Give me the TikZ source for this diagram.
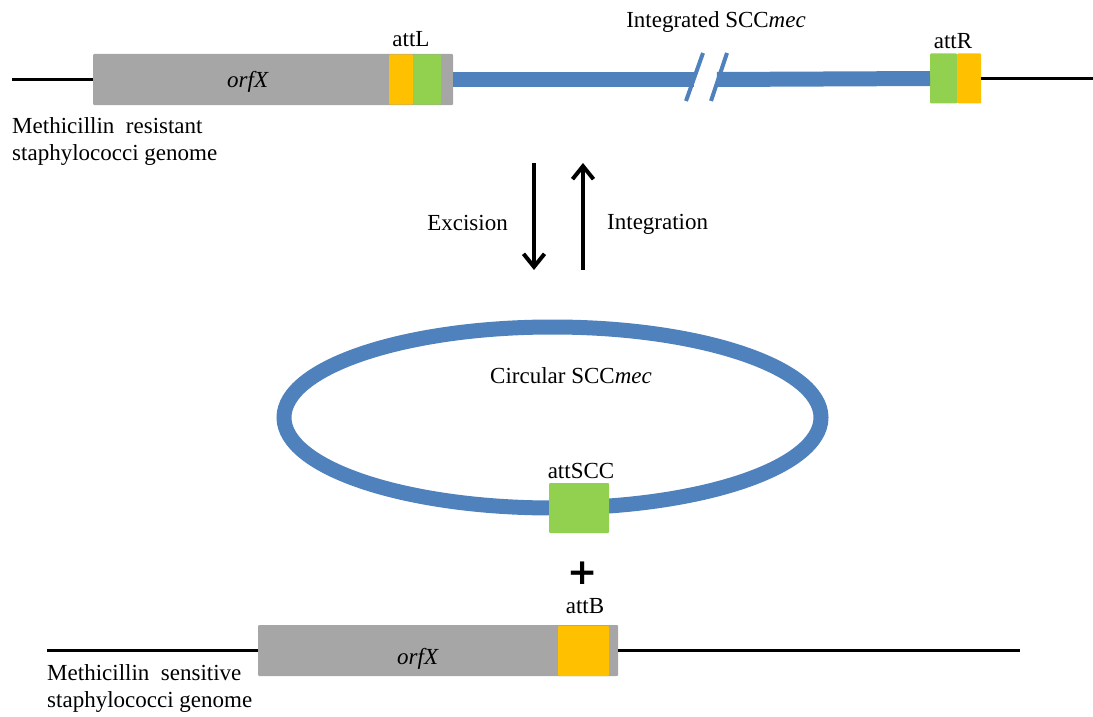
\documentclass[tikz,border=0pt]{standalone}
\usepackage{fontspec}
\setmainfont{Liberation Serif}
\newfontfamily\plusfont{DejaVu Sans}
\usetikzlibrary{arrows.meta}
\definecolor{orfgray}{HTML}{A6A6A6}
\definecolor{attorange}{HTML}{FFC000}
\definecolor{attgreen}{HTML}{92D050}
\definecolor{mecblue}{HTML}{4F81BD}
\tikzset{
  genebox/.style={fill=orfgray,rounded corners=1pt,inner sep=0pt,minimum height=51pt},
  attbox/.style={rounded corners=1pt,inner sep=0pt,minimum height=50pt},
  lbl/.style={inner sep=0pt,font=\fontsize{23}{27}\selectfont},
  dna/.style={line width=3.5pt},
  mec/.style={draw=mecblue,line width=15pt},
  flow/.style={line width=4pt,-{Straight Barb[length=13pt,width=21pt,line width=4pt]}},
}
\begin{document}
\begin{tikzpicture}[x=1pt,y=-1pt]
                \useasboundingbox (0,0) rectangle (1093,717);
                % resistant genome with integrated element
                \node[genebox,minimum width=360pt,anchor=west] (orfR) at (93,79.5) {};
                \node[attbox,fill=attorange,minimum width=24pt,anchor=west] (attLo) at (389,79.5) {};
                \node[attbox,fill=attgreen,minimum width=28pt,anchor=west] (attLg) at (413,79.5) {};
                \node[attbox,fill=attgreen,minimum width=27pt,anchor=west] (attRg) at (930,78.5) {};
                \node[attbox,fill=attorange,minimum width=24pt,anchor=west] (attRo) at (957,78.5) {};
                \coordinate (leftR) at (12,79.5);
                \coordinate (rightR) at (1093,78.5);
                \coordinate (brkA) at (694,79.5);
                \coordinate (brkB) at (717,79.5);
                \draw[dna] (leftR) -- (orfR.west);
                \draw[dna] (attRo.east) -- (rightR);
                \draw[mec] (orfR.east) -- (brkA);
                \draw[mec] (brkB) -- (attRg.west);
                \draw[mecblue,line width=4pt] (686,101) -- (703,53);
                \draw[mecblue,line width=4pt] (711,101) -- (727,53);
                \node[lbl,anchor=base] (orfRtxt) at (248,88) {\textit{orfX}};
                \node[lbl,anchor=base] (attLtxt) at (411,47) {attL};
                \node[lbl,anchor=base] (attRtxt) at (953,49) {attR};
                \node[lbl,anchor=base] (integ) at (716,28) {Integrated SCC\textit{mec}};
                \node[lbl,anchor=base west,align=left] (mrsa) at (12,160) {Methicillin\ \ resistant\\staphylococci genome};
                % excision / integration
                \coordinate (excTop) at (534,163);
                \coordinate (excBot) at (534,270);
                \coordinate (intBot) at (583,270);
                \coordinate (intTop) at (583,163);
                \draw[flow] (excTop) -- (excBot);
                \draw[flow] (intBot) -- (intTop);
                \node[lbl,anchor=base east] (exc) at (508,230) {Excision};
                \node[lbl,anchor=base west] (intg) at (607,229) {Integration};
                % circular element
                \coordinate (ring) at (552.5,417.5);
                \draw[mec] (ring) ellipse [x radius=268.5,y radius=90.5];
                \node[attbox,fill=attgreen,minimum width=60pt] (attSCC) at (579,508) {};
                \node[lbl,anchor=base] (circ) at (571,383) {Circular SCC\textit{mec}};
                \node[lbl,anchor=base] (attSCCtxt) at (581,478) {attSCC};
                \node[inner sep=0pt,font=\plusfont\bfseries\fontsize{36}{36}\selectfont] (plus) at (583,573) {+};
                % sensitive genome
                \node[genebox,minimum width=360pt,anchor=west] (orfS) at (258,650.5) {};
                \node[attbox,fill=attorange,minimum width=51pt,anchor=west] (attB) at (558,651) {};
                \coordinate (leftS) at (47,650.5);
                \coordinate (rightS) at (1020,650.5);
                \draw[dna] (leftS) -- (orfS.west);
                \draw[dna] (orfS.east) -- (rightS);
                \node[lbl,anchor=base] (orfStxt) at (418,664) {\textit{orfX}};
                \node[lbl,anchor=base] (attBtxt) at (585,613) {attB};
                \node[lbl,anchor=base west,align=left] (mssa) at (47,707) {Methicillin\ \ sensitive\\staphylococci genome};
            \end{tikzpicture}
\end{document}
